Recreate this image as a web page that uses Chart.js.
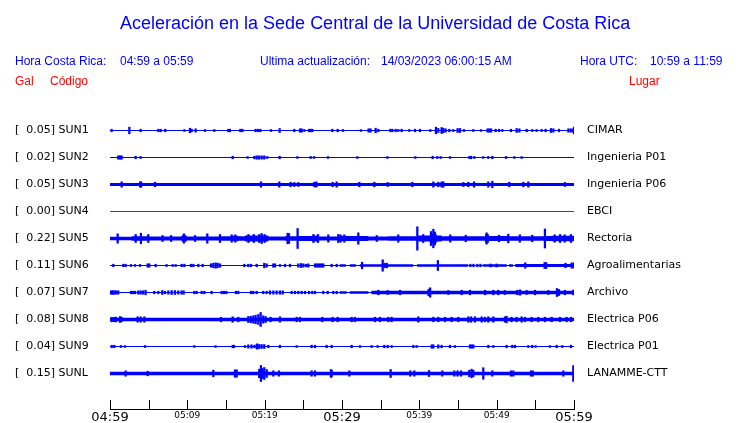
<!DOCTYPE html>
<html><head><meta charset="utf-8">
<script src="https://cdn.jsdelivr.net/npm/chart.js@4.4.0/dist/chart.umd.min.js"></script>
<style>
html,body{margin:0;padding:0;background:#fff;}
#wrap{position:relative;width:740px;height:423px;overflow:hidden;background:#fff;}
#c{position:absolute;left:0;top:0;}
.t{position:absolute;font-family:"Liberation Sans",Arial,sans-serif;font-size:12px;line-height:12px;white-space:pre;color:#0000ff;}
.r{color:#ff0000;}
</style></head><body>
<div id="wrap">
<canvas id="c" width="740" height="423"></canvas>
<div class="t" style="left:120px;top:14px;font-size:18px;line-height:18px;">Aceleración en la Sede Central de la Universidad de Costa Rica</div>
<div class="t" style="left:15px;top:55px;">Hora Costa Rica:</div>
<div class="t" style="left:120px;top:55px;">04:59 a 05:59</div>
<div class="t" style="left:260px;top:55px;">Ultima actualización:</div>
<div class="t" style="left:381px;top:55px;">14/03/2023 06:00:15 AM</div>
<div class="t" style="left:580px;top:55px;">Hora UTC:</div>
<div class="t" style="left:650px;top:55px;">10:59 a 11:59</div>
<div class="t r" style="left:15px;top:75px;">Gal</div>
<div class="t r" style="left:50px;top:75px;">Código</div>
<div class="t r" style="left:629px;top:75px;">Lugar</div>
</div>
<script>
// ---- data ----
const codes = ['SUN1','SUN2','SUN3','SUN4','SUN5','SUN6','SUN7','SUN8','SUN9','SUNL'];
const galValues = [0.05,0.02,0.05,0.00,0.22,0.11,0.07,0.08,0.04,0.15];
const places = ['CIMAR','Ingenieria P01','Ingenieria P06','EBCI','Rectoria','Agroalimentarias','Archivo','Electrica P06','Electrica P01','LANAMME-CTT'];
const minuteTicks = [0,5,10,15,20,25,30,35,40,45,50,55,60];
const tickLabels = ['04:59','','05:09','','05:19','','05:29','','05:39','','05:49','','05:59'];
const majorTicks = [0,30,60];

// background noise band: [minute from which it applies, half amplitude]
const sun1Band = [[0,0.6],[60,0.6]];
const sun2Band = [[0,0.5],[60,0.5]];
const sun3Band = [[0,1.5],[60,1.5]];
const sun4Band = [[0,0.5],[60,0.5]];
const sun5Band = [[0,1.8],[2.8,2.3],[5.0,2.1],[9.26,3.2],[9.91,2.1],[14.22,2.3],[15.73,2.8],[16.59,2.3],[17.45,3],[20.47,2.1],[22.63,2.3],[24.35,2.5],[26.29,3],[26.94,2.1],[29.74,2.8],[30.39,2.5],[33.4,2.1],[35.99,2.3],[39.87,3],[41.38,4.5],[42.24,3],[42.88,2.3],[48.49,4.3],[49.0,2.5],[51.5,2.3],[56.24,2.5],[57.11,2.8],[60,2.8]];
const sun6Band = [[0,0.5],[29.7,1.3],[30.5,0.5],[31.0,1.3],[31.8,0.5],[32.3,1.3],[39.2,0.5],[39.7,1.3],[46.3,0.5],[48.2,1.3],[51.3,0.5],[51.6,1.3],[52.1,0.5],[52.4,1.5],[60,1.5]];
const sun7Band = [[0,0.5],[29.7,1.3],[30.6,0.5],[31.0,1.3],[33.4,0.5],[33.8,1.7],[60,1.7]];
const sun8Band = [[0,1.8],[60,1.8]];
const sun9Band = [[0,0.5],[60,0.5]];
const sunLBand = [[0,1.8],[60,1.8]];

// bursts / peaks: [minute, half amplitude]
const sun1Peaks = [[0.21,1.3],[2.5,3.3],[3.96,1.3],[6.25,1.3],[6.55,1.3],[7.15,1.3],[9.61,0.9],[10.34,2.3],[10.56,1.3],[11.07,1.7],[12.28,1],[13.49,1],[15.3,1.3],[15.51,1.3],[16.85,1.3],[17.11,1.3],[18.83,1.3],[19.13,1.3],[19.44,1.3],[20.82,1],[21.94,2],[23.83,1.3],[24.57,1.7],[24.78,1.7],[25.13,1],[25.73,1.3],[25.95,1.3],[26.16,1.3],[28.75,1.3],[29.44,1.3],[30.13,1],[32.45,0.9],[33.44,1.7],[33.7,1.7],[34.35,2.3],[34.7,1.3],[36.25,1.3],[36.51,1.3],[36.94,1.3],[37.28,1],[37.71,1.3],[38.7,1],[39.44,1.3],[40.08,1.3],[41.42,1],[42.15,3.3],[42.45,2],[42.88,3],[43.1,2.3],[43.4,1.7],[43.88,1.3],[44.39,1],[44.95,2],[45.26,2],[45.77,1],[46.98,1],[47.97,0.9],[48.83,1.7],[49.05,1.7],[49.27,1.7],[49.87,1.3],[50.3,1.3],[50.73,1],[51.85,1.3],[52.58,2],[52.93,1.7],[53.88,1.3],[54.61,1],[55.17,1],[55.82,1],[56.33,1.3],[57.02,2],[57.33,1.7],[58.06,1.3],[59.27,1.7],[59.57,1.7],[59.87,1.7],[60,3.3]];
const sun2Peaks = [[1.07,1.7],[1.29,1.7],[1.5,1.7],[3.32,1.3],[3.96,1],[15.86,1.3],[17.8,0.9],[18.66,1.3],[18.96,1.7],[19.26,1.7],[19.61,1.7],[19.95,1.7],[20.34,1],[21.94,1.3],[24.22,0.9],[25.95,1],[26.38,0.9],[28.19,0.9],[31.98,0.9],[35.86,0.9],[39.48,0.9],[41.72,1.3],[42.32,1],[42.76,1],[43.96,0.9],[46.46,1],[46.68,1.3],[47.11,1],[48.27,0.9],[48.92,1],[49.44,1.3],[51.2,1],[52.28,0.9],[53.23,0.9]];
const sun3Peaks = [[1.51,2.7],[3.9,2.7],[4.02,2.7],[5.82,2.3],[19.52,2.7],[21.89,2.7],[23.36,2.3],[23.83,2],[24.35,2],[26.42,2.3],[26.68,2.7],[28.79,2.3],[29.31,2.7],[32.24,2.3],[34.18,2.3],[35.9,2],[39.09,2.3],[41.81,2.7],[42.45,2.3],[42.88,2.7],[43.1,2.7],[45.69,2],[46.33,2.3],[47.07,2.7],[48.92,2.7],[49.44,3.3],[51.63,2.3],[53.45,2.3],[54.09,2.7],[58.83,2]];
const sun4Peaks = [];
const sun5Peaks = [[0.99,4.7],[3.32,4],[4.0,5.3],[4.95,4],[6.8,3],[7.9,3],[9.56,4.7],[11.0,3],[12.58,4.7],[14.22,4],[15.73,3.7],[16.2,3.7],[17.9,4],[18.6,4],[19.3,4],[19.61,5],[20.0,4],[22.97,5.3],[23.14,5],[24.26,10],[26.3,4],[26.9,4],[28.23,3.7],[29.52,4],[29.8,3.7],[30.3,3.7],[32.11,5.7],[34.5,3],[37.28,3.7],[39.74,11.7],[40.5,4],[41.5,7],[41.81,9.3],[42.0,6.5],[44.0,3.7],[46.0,3.3],[48.7,5.7],[50.3,3.3],[51.5,4.3],[53.0,3.7],[54.6,3.3],[56.24,9.5],[57.5,3.7],[58.2,4],[58.8,3.7],[59.6,4]];
const sun6Peaks = [[0.43,1.3],[1.72,1.3],[2.02,1.3],[2.71,1],[3.23,1],[3.88,1],[4.87,1.7],[5.08,1.7],[5.9,1.3],[7.32,1],[8.1,1],[8.49,1],[9.26,1.3],[9.61,1.3],[10.47,1.3],[10.77,1.3],[11.42,1.3],[11.98,1.3],[13.06,1.7],[13.36,2.3],[13.66,2.7],[13.92,2.3],[14.22,1.7],[17.37,1.3],[17.88,1.3],[18.23,1.3],[18.96,1.3],[19.95,2.3],[20.26,1.7],[21.12,1.7],[21.33,1.7],[21.98,1],[22.63,1.3],[23.27,1.3],[24.35,1.7],[24.7,2],[25.0,1.7],[25.34,1.3],[25.64,1.7],[26.51,1.7],[26.72,1.7],[26.94,1.7],[27.16,1.7],[27.37,1.7],[27.58,1.7],[28.66,1.3],[29.31,1.3],[32.6,3.3],[35.26,5.7],[35.5,2.3],[35.8,2.3],[42.4,5],[46.6,1.3],[47.0,1.3],[47.5,1.3],[47.9,1.3],[49.2,1.5],[50.0,1.5],[53.7,2.7],[56.2,3],[56.4,3],[58.9,2.3],[59.7,2.7],[60,2.7]];
const sun7Peaks = [[0.13,1.7],[0.34,2],[0.56,1.7],[0.78,1.7],[1.07,1.7],[2.71,1.3],[2.97,1.3],[3.23,1.3],[3.66,1.7],[3.96,1.7],[4.27,1.7],[4.6,2.3],[5.73,1.3],[6.25,1.3],[6.76,2],[7.1,1.3],[7.54,1.7],[7.97,2],[8.4,2],[8.83,1.7],[9.26,1.7],[9.53,1.7],[10.9,1.3],[11.2,1.3],[11.85,1.3],[12.2,1.3],[13.14,1.3],[14.44,1.3],[14.74,1.3],[15.04,1.3],[16.29,1.3],[16.59,1.3],[18.23,1.3],[18.53,1.3],[18.96,1.3],[19.82,1.3],[20.26,1.3],[20.69,1.7],[21.12,1.7],[21.55,1.7],[21.98,1.7],[22.34,1.7],[23.49,1.3],[23.92,1.3],[24.35,1.3],[24.78,1.3],[25.21,1.3],[25.73,1.3],[26.16,1.3],[26.51,1.3],[27.58,1.3],[28.15,1.3],[28.88,1.3],[29.31,1.3],[34.7,2.3],[35.9,2],[37.5,2.3],[41.2,3.3],[41.4,4.7],[43.75,2],[45.47,2.3],[46.55,2.3],[48.5,2.3],[49.57,2.3],[50.2,2.3],[51.07,2],[52.67,2.3],[53.02,2.7],[53.88,2],[54.95,2.3],[56.68,2],[57.8,4],[58.06,3],[58.83,2.3],[59.91,2.3]];
const sun8Peaks = [[0.22,2.3],[0.56,2.3],[0.78,2.3],[1.3,3],[1.5,2.3],[3.57,2.7],[3.96,2.7],[4.44,2.7],[14.35,2.3],[15.86,2.7],[16.59,2.3],[17.88,3],[18.19,3.3],[18.53,3.7],[18.83,4.3],[19.18,5],[19.48,7],[19.82,3.7],[20.13,3],[20.77,2.3],[21.98,2.7],[24.14,2.3],[24.57,2.3],[27.45,2.3],[28.79,2.3],[29.44,2.3],[31.25,2.3],[31.68,2.3],[34.26,2.3],[34.91,2.3],[35.99,2.3],[36.42,2.3],[39.87,2.7],[41.81,2.3],[42.45,2.3],[43.32,2.3],[44.18,2.3],[45.04,2.3],[46.33,2.7],[46.68,2.7],[47.2,2.7],[48.06,2.7],[48.49,2.3],[48.92,2.7],[49.57,2.7],[51.07,2.7],[51.28,3.3],[51.93,2.3],[52.58,2.3],[53.23,2.7],[53.66,2.3],[54.52,2.3],[55.38,2.3],[56.24,2.3],[57.11,2.3],[58.19,2.3],[59.05,2.3],[59.61,2.3]];
const sun9Peaks = [[0.22,1.3],[0.56,1.3],[1.42,1],[1.94,0.9],[4.53,1],[10.9,0.9],[13.66,0.9],[15.86,1.3],[16.03,1.3],[17.45,1],[17.88,1.7],[18.3,1.7],[18.66,1.3],[18.96,2],[19.05,2.7],[19.3,2],[19.6,2],[19.95,2],[20.47,1.3],[21.98,1.3],[24.14,0.9],[26.07,1.3],[26.51,1.3],[28.01,1.3],[28.66,1.3],[31.25,1.3],[32.32,0.9],[33.83,1],[34.61,1],[35.47,1.3],[35.9,1.3],[36.42,1],[39.22,1.3],[39.65,1],[41.6,1.7],[41.81,1.7],[42.45,1.7],[42.88,1.3],[43.96,1.3],[44.6,1],[46.55,1.7],[46.76,1.7],[46.98,1.7],[48.92,1.3],[49.57,1],[51.28,1.3],[52.02,1.3],[52.37,1.3],[54.09,1],[54.61,1.3],[55.04,0.9],[56.89,0.9],[57.76,1.3],[58.49,1],[59.61,1.3]];
const sunLPeaks = [[2.02,2.7],[4.87,2.3],[13.36,3.3],[16.16,3.7],[16.38,3.7],[19.3,4.3],[19.52,8],[19.7,5],[19.95,6],[20.26,4],[21.12,2.7],[21.85,2.7],[26.07,2.7],[26.51,2.7],[28.57,4],[28.66,3.3],[30.95,2.7],[36.29,4],[38.83,2.7],[39.35,2.7],[41.25,3],[42.97,2.7],[44.52,2.7],[44.95,2.7],[45.39,2.7],[46.46,3.3],[46.76,4.3],[46.98,3.3],[48.27,5.8],[49.44,2.7],[51.85,2.7],[52.15,2.7],[54.44,2.7],[54.65,2.7],[58.62,2.7],[59.91,8]];

const bands = [sun1Band,sun2Band,sun3Band,sun4Band,sun5Band,sun6Band,sun7Band,sun8Band,sun9Band,sunLBand];
const peaks = [sun1Peaks,sun2Peaks,sun3Peaks,sun4Peaks,sun5Peaks,sun6Peaks,sun7Peaks,sun8Peaks,sun9Peaks,sunLPeaks];

// ---- layout / style ----
const ROW = 27;
const rowY = i => ROW * (i + 1) + 0.5;
const BLUE = '#0000ff', RED = '#ff0000';
const colorFor = i => galValues[i] === 0 ? RED : BLUE;

const datasets = [];
codes.forEach((code, i) => {
  const c = rowY(i), col = colorFor(i);
  datasets.push({type:'line', label: code + ' top', data: bands[i].map(([t,a]) => ({x:t, y:c - a})),
    stepped: true, pointRadius: 0, borderWidth: 0, borderColor: 'rgba(0,0,0,0)', fill: false});
  datasets.push({type:'line', label: code + ' bottom', data: bands[i].map(([t,a]) => ({x:t, y:c + a})),
    stepped: true, pointRadius: 0, borderWidth: 0, borderColor: 'rgba(0,0,0,0)', backgroundColor: col, fill: '-1'});
  datasets.push({type:'bar', label: code + ' peaks', data: peaks[i].map(([t,a]) => ({x:t, y:[c - a, c + a]})),
    backgroundColor: col, borderWidth: 0, barThickness: 1.6, grouped: false});
});

const leftLabels = codes.map((c, i) => '[' + galValues[i].toFixed(2).padStart(6, ' ') + '] ' + c);

const noPad = s => { s.paddingTop = 0; s.paddingBottom = 0; s.paddingLeft = 0; s.paddingRight = 0; };

const tickMarks = {
  id: 'tickMarks',
  afterDraw(chart) {
    const {ctx, chartArea} = chart, xs = chart.scales.x;
    ctx.save();
    ctx.strokeStyle = '#000'; ctx.lineWidth = 1;
    ctx.beginPath();
    minuteTicks.forEach(v => {
      const px = Math.round(xs.getPixelForValue(v)) + 0.5;
      ctx.moveTo(px, Math.round(chartArea.bottom));
      ctx.lineTo(px, Math.round(chartArea.bottom) - 9);
    });
    ctx.stroke();
    ctx.restore();
  }
};

new Chart(document.getElementById('c'), {
  type: 'line',
  data: {datasets},
  plugins: [tickMarks],
  options: {
    responsive: false, animation: false, devicePixelRatio: 1,
    layout: {padding: {top: 103, left: 15, right: 0, bottom: 0}},
    plugins: {legend: {display: false}, tooltip: {enabled: false}},
    scales: {
      x: {type: 'linear', min: 0, max: 60, offset: false,
        afterBuildTicks: s => { s.ticks = minuteTicks.map(v => ({value: v, major: majorTicks.includes(v)})); },
        afterFit: s => { s.height = 14; noPad(s); },
        grid: {display: false, drawTicks: false},
        border: {display: true, color: '#000', width: 1},
        ticks: {autoSkip: false, maxRotation: 0, padding: 1, color: '#000',
          callback: (v, idx) => tickLabels[minuteTicks.indexOf(v)],
          font: ctx => ({family: '"DejaVu Sans"', size: (ctx.tick && majorTicks.includes(ctx.tick.value)) ? 13 : 9})}
      },
      y: {type: 'linear', position: 'left', reverse: true, min: 0, max: 306,
        afterBuildTicks: s => { s.ticks = codes.map((_, i) => ({value: rowY(i)})); },
        afterFit: s => { s.width = 95; noPad(s); },
        grid: {display: false, drawTicks: false}, border: {display: false},
        ticks: {autoSkip: false, crossAlign: 'far', padding: 0, color: '#000',
          font: {family: '"DejaVu Sans"', size: 11},
          callback: (v, idx) => leftLabels[idx]}
      },
      yR: {type: 'linear', position: 'right', display: true, reverse: true, min: 0, max: 306,
        afterBuildTicks: s => { s.ticks = codes.map((_, i) => ({value: rowY(i)})); },
        afterFit: s => { s.width = 166; noPad(s); },
        grid: {display: false, drawTicks: false}, border: {display: false},
        ticks: {autoSkip: false, crossAlign: 'near', padding: 13, color: '#000',
          font: {family: '"DejaVu Sans"', size: 11},
          callback: (v, idx) => places[idx]}
      }
    }
  }
});
</script>
</body></html>
